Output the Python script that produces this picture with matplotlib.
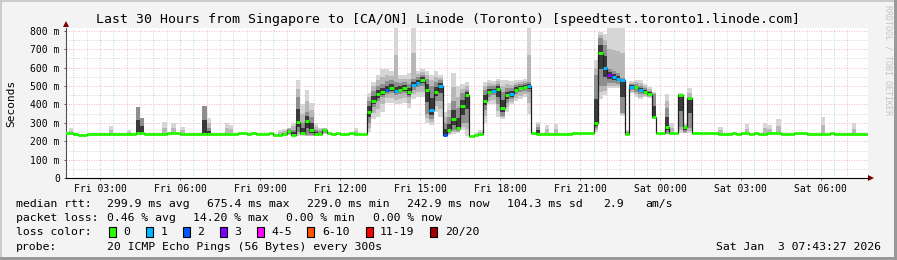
import numpy as np
import matplotlib
matplotlib.use("Agg")
import matplotlib.pyplot as plt
from matplotlib.patches import Rectangle

W, H = 897, 260
plt.rcParams['font.family'] = 'DejaVu Sans Mono'

# hours since Fri 00:00, first sample Fri 01:40, one sample every 10 minutes
start_hour = 1 + 40 / 60
step_hour = 10 / 60

median_ms = [
    244, 244, 241, 236, 236, 240, 240, 240, 240, 240,
    240, 240, 241, 240, 240, 240, 244, 244, 242, 240,
    240, 240, 242, 244, 244, 244, 238, 242, 240, 240,
    240, 240, 240, 240, 242, 242, 242, 240, 240, 243,
    243, 240, 243, 238, 240, 240, 244, 232, 232, 238,
    256, 236, 307, 248, 310, 260, 238, 240, 260, 244,
    242, 243, 240, 240, 243, 240, 240, 242, 360, 420,
    455, 468, 480, 490, 472, 480, 490, 468, 508, 518,
    533, 480, 370, 470, 500, 236, 262, 320, 275, 390,
    451, 229, 232, 238, 420, 470, 472, 485, 380, 450,
    455, 480, 488, 492, 500, 244, 242, 240, 240, 240,
    240, 240, 240, 240, 244, 244, 244, 244, 244, 300,
    681, 600, 558, 551, 540, 530, 240, 495, 495, 480,
    470, 455, 330, 245, 245, 280, 243, 244, 450, 276,
    434, 245, 244, 244, 244, 244, 243, 240, 240, 242,
    244, 240, 244, 244, 240, 244, 240, 240, 244, 244,
    244, 240, 240, 240, 244, 244, 244, 240, 240, 240,
    240, 240, 244, 240, 240, 240, 240, 240, 240, 238,
    242,
]

# samples with lost pings (count out of 20)
loss_idx = [72, 74, 78, 79, 82, 84, 85, 96, 100, 104, 121, 122, 123, 124, 125, 127, 129]
loss_cnt = [2, 1, 1, 1, 1, 1, 2, 1, 1, 1, 1, 3, 1, 1, 1, 1, 1]

# smoke: full ping range and the dense middle of the pings
smoke_idx = [1, 10, 14, 16, 17, 22, 24, 26, 31, 32, 36, 37,
             48, 49, 50, 51, 52, 53, 54, 55, 56, 57, 58, 65,
             68, 69, 70, 71, 72, 73, 74, 75, 76, 77, 78, 79, 80, 81, 82, 83, 84,
             85, 86, 87, 88, 89, 90, 92, 93,
             94, 95, 96, 97, 98, 99, 100, 101, 102, 103, 104, 106, 108, 110,
             119, 120, 121, 122, 123, 124, 125, 126, 127, 128, 129, 130, 131, 132,
             135, 136, 138, 139, 140, 147, 153, 157, 158, 160, 170, 177]
smoke_lo = [244, 240, 240, 244, 244, 242, 244, 238, 240, 240, 242, 240,
            228, 230, 235, 228, 228, 230, 228, 228, 228, 230, 240, 240,
            250, 320, 330, 360, 410, 410, 400, 400, 410, 380, 430, 440, 440, 300, 290, 360, 330,
            228, 235, 240, 245, 260, 229, 229, 232,
            300, 400, 400, 330, 320, 360, 400, 420, 430, 440, 350, 242, 240, 240,
            250, 430, 450, 488, 488, 488, 340, 236, 460, 440, 430, 440, 435, 330,
            240, 243, 245, 245, 245, 240, 244, 240, 244, 244, 240, 240]
smoke_hi = [272, 283, 262, 385, 326, 307, 300, 280, 392, 326, 298, 290,
            260, 268, 275, 300, 533, 400, 478, 406, 300, 275, 275, 270,
            460, 520, 560, 590, 590, 580, 814, 560, 560, 570, 814, 580, 590, 580, 560, 580, 560,
            360, 410, 570, 500, 510, 520, 250, 262,
            520, 530, 525, 540, 530, 530, 525, 530, 535, 540, 814, 307, 289, 294,
            640, 790, 780, 814, 814, 814, 814, 260, 525, 530, 530, 510, 495, 470,
            456, 300, 460, 300, 488, 280, 294, 301, 290, 320, 334, 298]
core_lo = [244, 240, 240, 244, 244, 242, 244, 238, 240, 240, 242, 240,
           230, 232, 240, 232, 250, 236, 235, 232, 230, 235, 248, 240,
           300, 385, 420, 440, 455, 460, 450, 455, 460, 440, 480, 495, 500, 350, 320, 420, 420,
           232, 245, 260, 255, 300, 300, 229, 235,
           370, 440, 450, 400, 340, 410, 430, 455, 465, 475, 470, 242, 240, 240,
           270, 500, 500, 515, 515, 510, 352, 238, 478, 470, 455, 455, 445, 330,
           245, 243, 280, 250, 270, 240, 244, 240, 244, 244, 240, 240]
core_hi = [244, 240, 240, 385, 326, 242, 244, 238, 392, 270, 242, 240,
           240, 248, 265, 262, 440, 300, 360, 334, 260, 255, 268, 240,
           420, 475, 500, 510, 525, 530, 520, 515, 520, 510, 540, 550, 560, 540, 500, 520, 530,
           300, 330, 420, 380, 460, 480, 235, 245,
           480, 500, 500, 510, 470, 490, 490, 505, 512, 515, 520, 280, 240, 240,
           560, 760, 720, 590, 580, 570, 545, 250, 512, 510, 500, 490, 475, 455,
           380, 243, 455, 280, 440, 240, 244, 240, 244, 244, 240, 240]

tick_hours = [3, 6, 9, 12, 15, 18, 21, 24, 27, 30]
tick_labels = ["Fri 03:00", "Fri 06:00", "Fri 09:00", "Fri 12:00", "Fri 15:00",
               "Fri 18:00", "Fri 21:00", "Sat 00:00", "Sat 03:00", "Sat 06:00"]
y_ticks = [0, 100, 200, 300, 400, 500, 600, 700, 800]
y_labels = ["0", "100 m", "200 m", "300 m", "400 m", "500 m", "600 m", "700 m", "800 m"]

loss_names = ["0", "1", "2", "3", "4-5", "6-10", "11-19", "20/20"]
loss_colors = ["#26ff00", "#00b8ff", "#0059ff", "#7e00ff", "#ff00ff", "#ff5500", "#ff0000", "#a10000"]
loss_upper = [0, 1, 2, 3, 5, 10, 19, 20]

median = np.array(median_ms, dtype=float)
n = len(median)
edges = start_hour + step_hour * np.arange(n + 1)
loss = np.zeros(n, dtype=int)
loss[loss_idx] = loss_cnt
loss_class = np.searchsorted(loss_upper, loss)

fig = plt.figure(figsize=(W / 100, H / 100), dpi=100, facecolor="#f3f3f3")
ax = fig.add_axes([66 / W, 1 - 178.3 / H, 802 / W, 150.6 / H])
ax.set_facecolor("white")
ax.set_xlim(1.726, 31.775)
ax.set_ylim(0, 816)

# grid
grid_dots = (0, (1, 2))
for h in range(2, 32):
    ax.axvline(h, color="#f2a0a0", lw=0.6, ls=grid_dots, zorder=1)
    ax.axvline(h - 0.5, color="#c4c4c4", lw=0.6, ls=grid_dots, zorder=1)
for v in range(100, 801, 100):
    ax.axhline(v, color="#f2a0a0", lw=0.6, ls=grid_dots, zorder=1)
    ax.axhline(v - 50, color="#c4c4c4", lw=0.6, ls=grid_dots, zorder=1)

# smoke, light at the outside and darker towards the median
st = start_hour + step_hour * np.array(smoke_idx)
s_lo, s_hi = np.array(smoke_lo, float), np.array(smoke_hi, float)
c_lo, c_hi = np.array(core_lo, float), np.array(core_hi, float)
s_med = median[smoke_idx]
bands = [
    (s_lo, s_hi, "#d6d6d6"),
    ((s_lo + c_lo) / 2, (s_hi + c_hi) / 2, "#b8b8b8"),
    (c_lo, c_hi, "#8e8e8e"),
    (np.minimum(s_med, (s_med + c_lo) / 2), np.maximum(s_med, (s_med + c_hi) / 2), "#3a3a3a"),
]
for lo, hi, col in bands:
    ax.bar(st, hi - lo, bottom=lo, width=step_hour, align="edge",
           color=col, linewidth=0, zorder=2)

# median line and loss colours
ax.stairs(median, edges, baseline=None, color="#202020", lw=0.9, zorder=4)
for ci, col in enumerate(loss_colors):
    m = loss_class == ci
    if m.any():
        ax.hlines(median[m], edges[:-1][m], edges[1:][m], colors=col, lw=2.1, zorder=5)

ax.set_xticks(tick_hours, tick_labels)
ax.set_yticks(y_ticks, y_labels)
ax.tick_params(labelsize=7, length=1.5, width=0.6, color="#404040")
ax.tick_params(axis="x", pad=2.4)
ax.tick_params(axis="y", pad=3)
for side in ("top", "right"):
    ax.spines[side].set_visible(False)
ax.spines["left"].set_color("#505050")
ax.spines["left"].set_linewidth(0.8)
ax.spines["bottom"].set_color("black")
ax.spines["bottom"].set_linewidth(0.8)
ax.plot([0], [1.025], marker="^", ms=4.5, mew=0, color="#7f0000",
        transform=ax.transAxes, clip_on=False)
ax.plot([1.0035], [0], marker=">", ms=4.5, mew=0, color="#7f0000",
        transform=ax.transAxes, clip_on=False)


def px_text(x, y, s, **kw):
    kw.setdefault("fontsize", 8.25)
    kw.setdefault("va", "center")
    fig.text(x / W, 1 - y / H, s, **kw)


px_text(448, 19, "Last 30 Hours from Singapore to [CA/ON] Linode (Toronto) "
        "[speedtest.toronto1.linode.com]", fontsize=9.5, ha="center")
px_text(11, 103.5, "Seconds", fontsize=8, rotation=90, ha="center")
px_text(887.5, 60, "RRDTOOL / TOBI OETIKER", fontsize=6, rotation=270,
        ha="center", color="#c4c4c4")

row1 = [(16, "median rtt:"), (107.3, "299.9 ms avg"), (207.3, "675.4 ms max"),
        (307.3, "229.0 ms min"), (407.3, "242.9 ms now"), (507.3, "104.3 ms sd"),
        (603, "2.9"), (645, "am/s")]
row2 = [(16, "packet loss:"), (107.3, "0.46 % avg"), (193.3, "14.20 % max"),
        (286, "0.00 % min"), (372.7, "0.00 % now")]
for x, s in row1:
    px_text(x, 204.3, s)
for x, s in row2:
    px_text(x, 218.3, s)

px_text(16, 232.3, "loss color:")
box_x = [108.7, 145.7, 182.7, 219.7, 256.7, 307.3, 365.7, 430]
label_x = [123.3, 160.7, 197.3, 234.3, 271, 322.3, 380, 445]
for bx, lx, name, col in zip(box_x, label_x, loss_names, loss_colors):
    fig.add_artist(Rectangle((bx / W, 1 - 237.3 / H), 7 / W, 10 / H,
                             transform=fig.transFigure, facecolor=col,
                             edgecolor="black", lw=0.8))
    px_text(lx, 232.3, name)

px_text(16, 246.7, "probe:")
px_text(107.3, 246.7, "20 ICMP Echo Pings (56 Bytes) every 300s")
px_text(881, 246.7, "Sat Jan  3 07:43:27 2026", ha="right")

# frame shading
for rect, col in [((0, 1 - 2 / H, 1, 2 / H), "#cbcbcb"), ((0, 0, 2 / W, 1), "#cbcbcb"),
                  ((0, 0, 1, 3 / H), "#999999"), ((1 - 3 / W, 0, 3 / W, 1), "#999999")]:
    fig.add_artist(Rectangle(rect[:2], rect[2], rect[3], transform=fig.transFigure,
                             facecolor=col, edgecolor="none"))

fig.savefig("out.png", dpi=100, facecolor=fig.get_facecolor())
